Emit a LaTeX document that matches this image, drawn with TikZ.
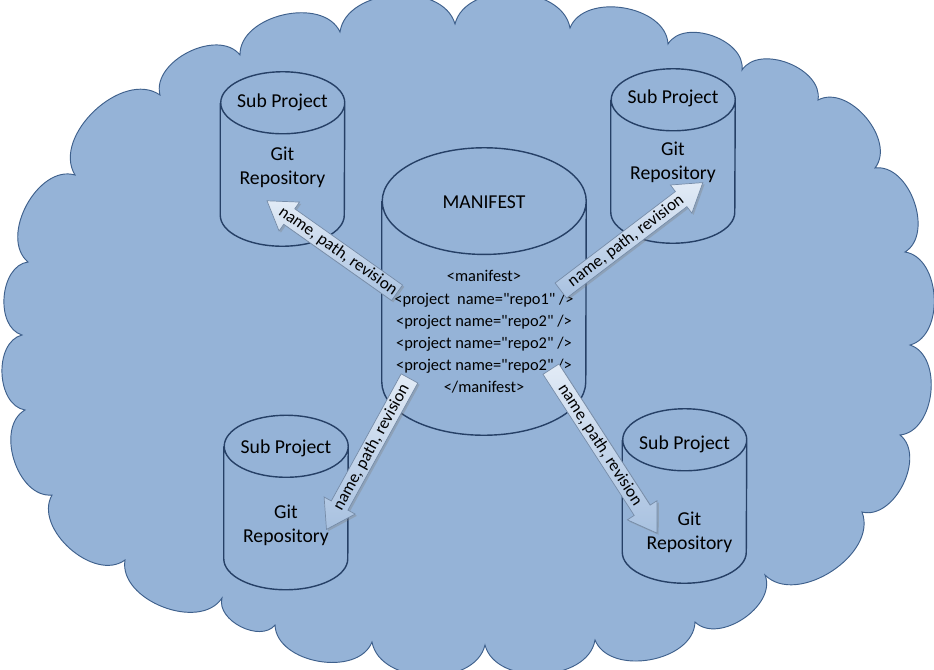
\documentclass[tikz,border=0pt]{standalone}
\usepackage{fontspec}
\setmainfont{Carlito}
\usetikzlibrary{shapes.arrows,shadows,calc}

\definecolor{cloudfill}{RGB}{149,179,215}
\definecolor{cloudline}{RGB}{62,96,140}
\definecolor{cylline}{RGB}{38,64,102}
\definecolor{linktop}{RGB}{226,235,246}
\definecolor{linkbot}{RGB}{168,193,224}
\definecolor{linkline}{RGB}{118,140,168}

\newcommand{\qt}{\textquotedbl}

\tikzset{
  puff/.style={bend left=78},
  repo/.style={rectangle, inner sep=0pt, minimum width=3.72cm, minimum height=5.22cm},
  codetext/.style={align=center, font=\fontsize{14}{18.8}\selectfont},
  link/.style={single arrow, draw=linkline, line width=0.6pt,
    top color=linktop, bottom color=linkbot,
    single arrow head extend=7pt, single arrow tip angle=66,
    inner xsep=1pt, inner ysep=1.6pt, font=\fontsize{14.5}{16}\selectfont,
    drop shadow={shadow xshift=1.5pt, shadow yshift=-1.5pt, opacity=0.35}},
  linkback/.style={link, shape border rotate=180}
}

\begin{document}
\begin{tikzpicture}[x=0.03cm, y=-0.03cm, font=\fontsize{16.8}{20.5}\selectfont]
  \fill[white] (0,0) rectangle (934,669);
  \useasboundingbox (0,0) rectangle (934,669);

  % the cloud
  \draw[draw=cloudline, line width=0.8pt, fill=cloudfill]
    (28,262) to[puff] (75,175) to[puff] (160,95) to[puff] (240,55)
    to[puff] (340,32) to[puff] (455,24) to[puff] (570,28) to[puff] (668,44)
    to[puff] (742,70) to[puff] (818,100) to[puff] (875,168) to[puff] (905,252)
    to[puff] (910,345) to[puff] (900,435) to[puff] (862,512) to[puff] (765,575)
    to[puff] (695,622) to[puff] (595,640) to[puff] (485,645) to[puff] (372,642)
    to[puff] (275,625) to[puff] (222,598) to[puff] (125,560) to[puff] (52,495)
    to[puff] (25,410) to[puff] (22,335) to[puff] (28,262) -- cycle;

  % repositories
  \node[repo] (sp1) at (282.5,159) {};
  \node[repo] (sp2) at (673,156) {};
  \node[repo] (sp3) at (286,502.5) {};
  \node[repo] (sp4) at (684.5,496) {};
  \node[repo, minimum width=6.12cm, minimum height=8.61cm] (manifest) at (484,291.5) {};

  \foreach \c/\rx/\ry in {sp1/1.86/0.93, sp2/1.86/0.93, sp3/1.86/0.93,
                          sp4/1.86/0.93, manifest/3.06/1.6}
    \draw[cylline, line width=1.2pt]
      ([yshift=-\ry cm]\c.north west) -- ([yshift=\ry cm]\c.south west)
      arc[start angle=180, end angle=360, x radius=\rx cm, y radius=\ry cm]
      -- ([yshift=-\ry cm]\c.north east)
      arc[start angle=0, end angle=180, x radius=\rx cm, y radius=\ry cm]
      arc[start angle=180, end angle=360, x radius=\rx cm, y radius=\ry cm];

  \node at ($(sp1.north)+(0,31)$) {Sub Project};
  \node[align=center] at ($(sp1.north)+(0,96)$) {Git\\Repository};
  \node at ($(sp2.north)+(0,30)$) {Sub Project};
  \node[align=center] at ($(sp2.north)+(0,94)$) {Git\\Repository};
  \node at ($(sp3.north)+(0,33)$) {Sub Project};
  \node[align=center] at ($(sp3.north)+(0,110)$) {Git\\Repository};
  \node at ($(sp4.north)+(0,36)$) {Sub Project};
  \node[align=center] at ($(sp4.north)+(5,124)$) {Git\\Repository};

  \node at ($(manifest.north)+(0,54)$) {MANIFEST};
  \node[codetext] at ($(manifest.north)+(0,184)$)
    {<manifest>\\<project\ \ name=\qt repo1\qt{} />\\<project name=\qt repo2\qt{} />\\
     <project name=\qt repo2\qt{} />\\<project name=\qt repo2\qt{} />\\</manifest>};

  % name, path, revision
  \coordinate (m1) at (403,297);  \coordinate (r1) at (273,205);
  \coordinate (m2) at (555,295);  \coordinate (r2) at (697,187);
  \coordinate (m3) at (413,372);  \coordinate (r3) at (330,523);
  \coordinate (m4) at (547,363);  \coordinate (r4) at (653,527);

  \path let \p1=($(r1)-(m1)$), \n1={veclen(\x1,\y1)} in
    (m1) -- (r1) node[linkback, midway, sloped, minimum height=\n1] {name, path, revision};
  \path let \p1=($(r2)-(m2)$), \n1={veclen(\x1,\y1)} in
    (m2) -- (r2) node[link, midway, sloped, minimum height=\n1] {name, path, revision};
  \path let \p1=($(r3)-(m3)$), \n1={veclen(\x1,\y1)} in
    (m3) -- (r3) node[linkback, midway, sloped, minimum height=\n1] {name, path, revision};
  \path let \p1=($(r4)-(m4)$), \n1={veclen(\x1,\y1)} in
    (m4) -- (r4) node[link, midway, sloped, minimum height=\n1] {name, path, revision};
\end{tikzpicture}
\end{document}
